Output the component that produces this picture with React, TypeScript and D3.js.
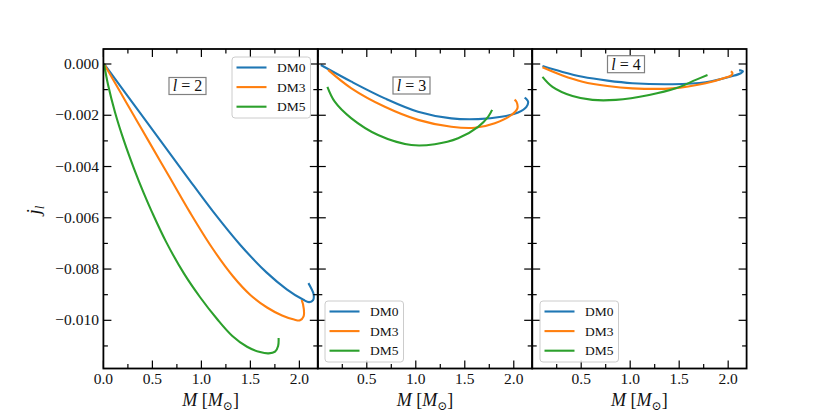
import React from "react";
import * as d3 from "d3";

// ---------- data (M [Msun], j_l) ----------
const seriesNames = ["DM0", "DM3", "DM5"];
const seriesColors = ["#1f77b4", "#ff7f0e", "#2ca02c"];
const panelLabels = ["2", "3", "4"];

const l2_DM0: [number, number][] = [
  [0.007, 0], [0.293, -0.00149], [0.586, -0.00301], [0.854, -0.0044], [1.122, -0.00577],
  [1.395, -0.00705], [1.667, -0.00814], [1.871, -0.00879], [2.041, -0.0092], [2.099, -0.00929],
  [2.14, -0.00921], [2.145, -0.00898], [2.119, -0.00874], [2.092, -0.00855],
];
const l2_DM3: [number, number][] = [
  [0.007, 0], [0.119, -0.00074], [0.232, -0.00149], [0.344, -0.00223], [0.456, -0.00297],
  [0.67, -0.00438], [0.885, -0.0058], [1.109, -0.00717], [1.324, -0.00829], [1.497, -0.009],
  [1.67, -0.0095], [1.823, -0.00981], [1.946, -0.00997], [2.007, -0.01], [2.043, -0.00985],
  [2.045, -0.00955], [2.024, -0.00921],
];
const l2_DM5: [number, number][] = [
  [0.007, 0], [0.048, -0.00082], [0.119, -0.00189], [0.211, -0.00301], [0.313, -0.00409],
  [0.415, -0.00507], [0.497, -0.00579], [0.64, -0.00694], [0.823, -0.00818], [0.987, -0.0091],
  [1.16, -0.00995], [1.313, -0.0106], [1.466, -0.01103], [1.599, -0.01124], [1.686, -0.01129],
  [1.752, -0.01122], [1.783, -0.011], [1.788, -0.01069],
];

const l3_DM0: [number, number][] = [
  [0.031, -0.00004], [0.343, -0.00069], [0.684, -0.00134], [1.023, -0.00186], [1.363, -0.00212],
  [1.636, -0.00215], [1.873, -0.00206], [2.044, -0.00189], [2.129, -0.00167], [2.146, -0.00147],
  [2.112, -0.00131],
];
const l3_DM3: [number, number][] = [
  [0.105, -0.00023], [0.343, -0.00095], [0.684, -0.00167], [1.023, -0.00218], [1.363, -0.00245],
  [1.602, -0.00249], [1.806, -0.00231], [1.976, -0.00199], [2.037, -0.00173], [2.027, -0.00147],
  [2.008, -0.00139],
];
const l3_DM5: [number, number][] = [
  [0.098, -0.00089], [0.173, -0.00147], [0.343, -0.00212], [0.615, -0.00277], [0.955, -0.00316],
  [1.194, -0.00313], [1.432, -0.0029], [1.636, -0.00245], [1.738, -0.00206], [1.779, -0.00179],
];

const l4_DM0: [number, number][] = [
  [0.105, -0.00008], [0.309, -0.00031], [0.513, -0.0005], [0.768, -0.00065], [1.023, -0.00075],
  [1.432, -0.00079], [1.771, -0.00071], [2.044, -0.00047], [2.129, -0.00036], [2.151, -0.00029],
  [2.112, -0.00024],
];
const l4_DM3: [number, number][] = [
  [0.105, -0.00013], [0.309, -0.00045], [0.513, -0.00069], [0.768, -0.00086], [1.023, -0.00095],
  [1.432, -0.00095], [1.771, -0.00075], [1.976, -0.00053], [2.037, -0.00043], [2.042, -0.00033],
  [2.026, -0.00029],
];
const l4_DM5: [number, number][] = [
  [0.105, -0.0005], [0.207, -0.00089], [0.411, -0.00125], [0.615, -0.0014], [0.853, -0.0014],
  [1.194, -0.00121], [1.465, -0.00095], [1.669, -0.00062], [1.789, -0.00043],
];

const panelData = [
  [l2_DM0, l2_DM3, l2_DM5],
  [l3_DM0, l3_DM3, l3_DM5],
  [l4_DM0, l4_DM3, l4_DM5],
];

const xMajorTicks = [0, 0.5, 1.0, 1.5, 2.0];
const xMinorTicks = [0.25, 0.75, 1.25, 1.75];
const yMajorTicks = [0, -0.002, -0.004, -0.006, -0.008, -0.01];
const yMinorTicks = [-0.001, -0.003, -0.005, -0.007, -0.009, -0.011];

const xDomain = [0, 2.188];
const yDomain = [-0.01188, 0.000585];

// ---------- layout ----------
const W = 830;
const H = 415;
const panelLefts = [103.4, 317.8, 532.2];
const panelW = 214.4;
const top = 49;
const bottom = 368.5;
const FONT = "'Liberation Serif', 'DejaVu Serif', serif";
const TEXT = "#111";

const legendPos = [
  { x: 232, y: 57 },
  { x: 325, y: 301 },
  { x: 540, y: 301 },
];
const labelPos = [
  { x: 187.5, y: 86 },
  { x: 411.5, y: 85.5 },
  { x: 626, y: 64.2 },
];

const y = d3.scaleLinear().domain(yDomain).range([bottom, top]);
const yFmt = d3.format(".3f");

function Panel({ idx }: { idx: number }) {
  const left = panelLefts[idx];
  const right = left + panelW;
  const x = d3.scaleLinear().domain(xDomain).range([left, right]);
  const line = d3
    .line<[number, number]>()
    .x((d) => x(d[0]))
    .y((d) => y(d[1]))
    .curve(d3.curveCatmullRom.alpha(0.5));
  const majL = 8;
  const minL = 4.5;
  const lg = legendPos[idx];
  const lp = labelPos[idx];
  return (
    <g>
      <defs>
        <clipPath id={`clip${idx}`}>
          <rect x={left} y={top} width={panelW} height={bottom - top} />
        </clipPath>
      </defs>
      <g clipPath={`url(#clip${idx})`}>
        {panelData[idx].map((s, k) => (
          <path key={k} d={line(s) || ""} fill="none" stroke={seriesColors[k]} strokeWidth={2.1} strokeLinecap="butt" />
        ))}
      </g>
      {/* ticks */}
      <g stroke="#000" strokeWidth={1.2}>
        {xMajorTicks.map((t) => (
          <g key={"xM" + t}>
            <line x1={x(t)} x2={x(t)} y1={bottom} y2={bottom - majL} />
            <line x1={x(t)} x2={x(t)} y1={top} y2={top + majL} />
          </g>
        ))}
        {xMinorTicks.map((t) => (
          <g key={"xm" + t}>
            <line x1={x(t)} x2={x(t)} y1={bottom} y2={bottom - minL} />
            <line x1={x(t)} x2={x(t)} y1={top} y2={top + minL} />
          </g>
        ))}
        {yMajorTicks.map((t) => (
          <g key={"yM" + t}>
            <line x1={left} x2={left + majL} y1={y(t)} y2={y(t)} />
            <line x1={right} x2={right - majL} y1={y(t)} y2={y(t)} />
          </g>
        ))}
        {yMinorTicks.map((t) => (
          <g key={"ym" + t}>
            <line x1={left} x2={left + minL} y1={y(t)} y2={y(t)} />
            <line x1={right} x2={right - minL} y1={y(t)} y2={y(t)} />
          </g>
        ))}
      </g>
      <rect x={left} y={top} width={panelW} height={bottom - top} fill="none" stroke="#000" strokeWidth={1.8} />
      {/* x tick labels */}
      <g fontFamily={FONT} fontSize={15.5} fill={TEXT} textAnchor="middle">
        {xMajorTicks
          .filter((t) => idx === 0 || t > 0)
          .map((t) => (
            <text key={"xl" + t} x={x(t)} y={384}>
              {t.toFixed(1)}
            </text>
          ))}
      </g>
      {idx === 0 && (
        <g fontFamily={FONT} fontSize={15.5} fill={TEXT} textAnchor="end">
          {yMajorTicks.map((t) => (
            <text key={"yl" + t} x={left - 4.5} y={y(t)} dy="0.33em">
              {yFmt(t)}
            </text>
          ))}
        </g>
      )}
      {/* x label */}
      <text x={(left + right) / 2} y={406} textAnchor="middle" fontFamily={FONT} fontSize={18} fill={TEXT}>
        <tspan fontStyle="italic">M</tspan>
        <tspan> [</tspan>
        <tspan fontStyle="italic">M</tspan>
        <tspan fontSize={12} dy={3.5}>⊙</tspan>
        <tspan dy={-3.5}>]</tspan>
      </text>
      {/* l label box */}
      <rect x={lp.x - 18.5} y={lp.y - 8.5} width={37} height={17} fill="#fff" stroke="#808080" strokeWidth={1.2} />
      <text x={lp.x} y={lp.y} dy="0.34em" textAnchor="middle" fontFamily={FONT} fontSize={16} fill={TEXT}>
        <tspan fontStyle="italic">l</tspan>
        <tspan> = {panelLabels[idx]}</tspan>
      </text>
      {/* legend */}
      <rect x={lg.x} y={lg.y} width={78.5} height={61} rx={3} ry={3} fill="#fff" fillOpacity={0.8} stroke="#cccccc" strokeWidth={1} />
      {seriesNames.map((n, k) => {
        const ry = lg.y + 10.5 + k * 19.6;
        return (
          <g key={n}>
            <line x1={lg.x + 4.5} x2={lg.x + 34.5} y1={ry} y2={ry} stroke={seriesColors[k]} strokeWidth={2.1} />
            <text x={lg.x + 45} y={ry} dy="0.35em" fontFamily={FONT} fontSize={13.5} fill={TEXT}>
              {n}
            </text>
          </g>
        );
      })}
    </g>
  );
}

export default function App() {
  return (
    <svg width={W} height={H} viewBox={`0 0 ${W} ${H}`} style={{ position: "absolute", left: 0, top: 0, background: "#fff" }}>
      <rect x={0} y={0} width={W} height={H} fill="#fff" />
      {[0, 1, 2].map((i) => (
        <Panel key={i} idx={i} />
      ))}
      <text transform="translate(40,210) rotate(-90)" textAnchor="middle" fontFamily={FONT} fontSize={19} fill={TEXT}>
        <tspan fontStyle="italic">j</tspan>
        <tspan fontStyle="italic" fontSize={13} dy={4}>l</tspan>
      </text>
    </svg>
  );
}
